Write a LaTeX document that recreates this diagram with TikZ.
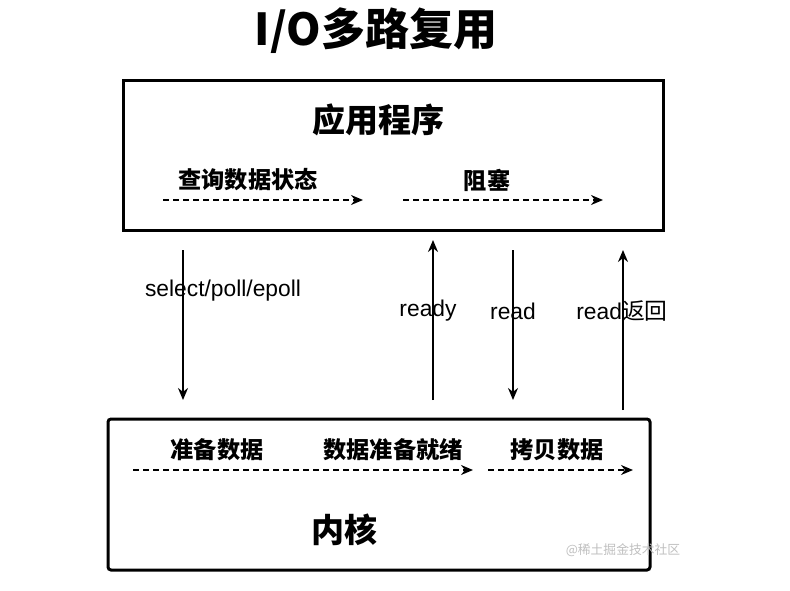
\documentclass[tikz,border=0pt]{standalone}
\usepackage{fontspec}
\setmainfont{Liberation Sans}
\newfontfamily\cjk{Noto Sans CJK SC}
\usetikzlibrary{arrows.meta}
\begin{document}
\begin{tikzpicture}[x=1pt,y=-1pt,
  boldlbl/.style={font=\cjk\bfseries\fontsize{23.2}{25}\selectfont,inner sep=0pt},
  biglbl/.style={font=\cjk\bfseries\fontsize{33}{36}\selectfont,inner sep=0pt},
  lbl/.style={font=\fontsize{22.8}{25}\selectfont,inner sep=0pt},
  dasharrow/.style={line width=1.5pt,dash pattern=on 6pt off 4pt,-{Stealth[length=12pt,width=10pt]}},
  vline/.style={line width=1.5pt,-{Stealth[length=12pt,width=10pt]}}]
\useasboundingbox (0,0) rectangle (790,590);
% title
\node[font=\cjk\bfseries\fontsize{44}{48}\selectfont,inner sep=0pt] (title) at (376,31) {I/O多路复用};
% application box
\draw[line width=3pt] (123,80) rectangle (663,230);
\node[biglbl] (app) at (378,120) {应用程序};
\node[boldlbl] (query) at (248,180) {查询数据状态};
\node[boldlbl] (block) at (487,180) {阻塞};
\coordinate (qa) at (163,200); \coordinate (qb) at (363,200);
\coordinate (ba) at (403,200); \coordinate (bb) at (603,200);
\draw[dasharrow] (qa) -- (qb);
\draw[dasharrow] (ba) -- (bb);
% kernel box
\draw[line width=3pt,rounded corners=3pt] (108,419) rectangle (650,570);
\node[boldlbl] (prep) at (217,450) {准备数据};
\node[boldlbl] (ready2) at (393,450) {数据准备就绪};
\node[boldlbl] (copy) at (557,450) {拷贝数据};
\node[biglbl] (kernel) at (344,530) {内核};
\node[font=\cjk\fontsize{12.8}{14}\selectfont,text=black!25,inner sep=0pt] (wm) at (623,550) {@稀土掘金技术社区};
\coordinate (ka) at (133,470); \coordinate (kb) at (473,470);
\coordinate (kc) at (488,470); \coordinate (kd) at (633,470);
\draw[dasharrow] (ka) -- (kb);
\draw[dasharrow] (kc) -- (kd);
% vertical arrows
\coordinate (s1) at (183,250); \coordinate (e1) at (183,400);
\coordinate (s2) at (433,400); \coordinate (e2) at (433,240);
\coordinate (s3) at (513,250); \coordinate (e3) at (513,400);
\coordinate (s4) at (623,410); \coordinate (e4) at (623,250);
\draw[vline] (s1) -- (e1);
\draw[vline] (s2) -- (e2);
\draw[vline] (s3) -- (e3);
\draw[vline] (s4) -- (e4);
\node[lbl] (sel) at (223,291) {select/poll/epoll};
\node[lbl] (rdy) at (428,311) {ready};
\node[lbl] (rd) at (513,311) {read};
\node[lbl] (rdr) at (622,311) {read{\cjk 返回}};
\end{tikzpicture}
\end{document}
